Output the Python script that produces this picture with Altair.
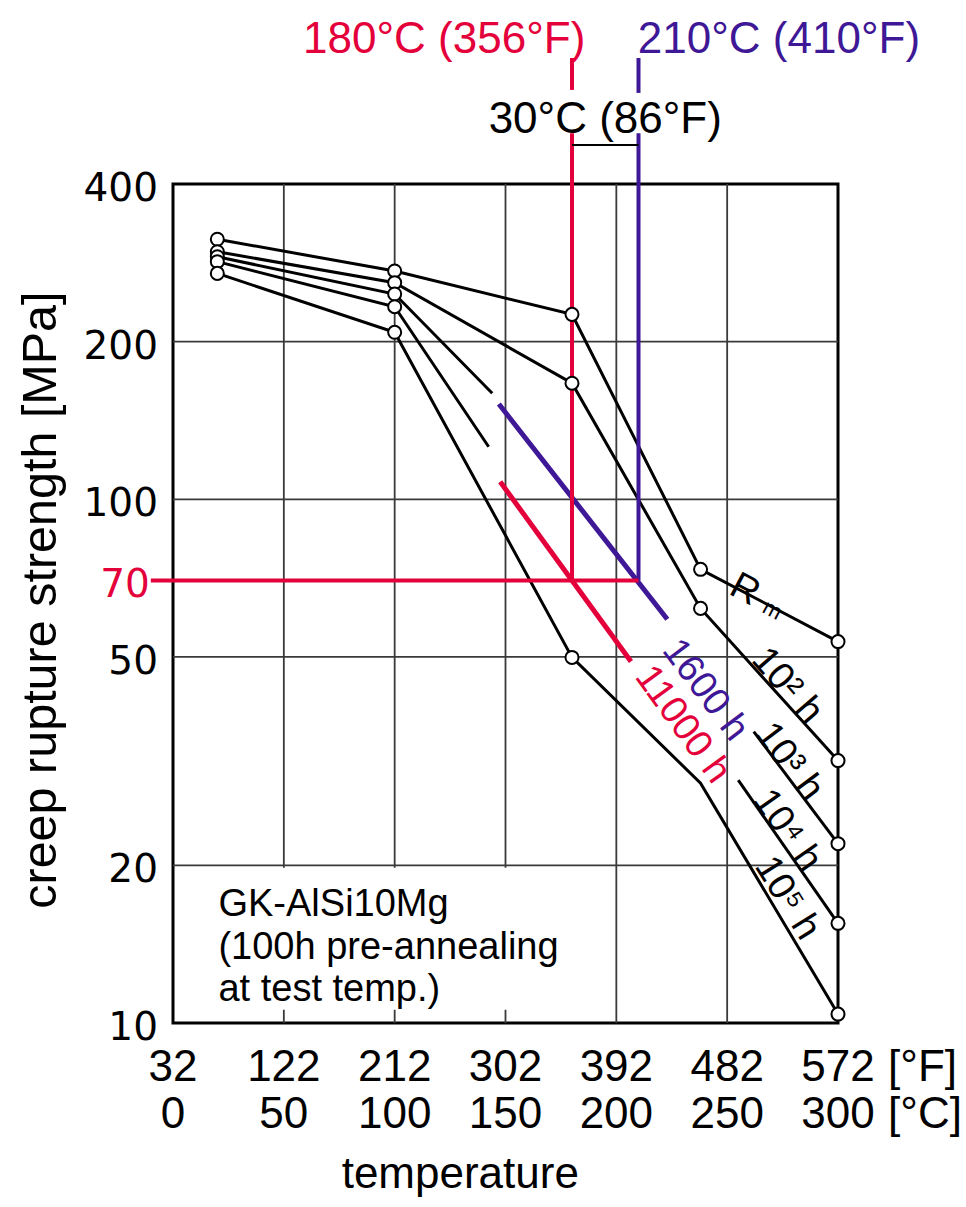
import altair as alt
import pandas as pd

# ---------------- data ----------------
# creep curves (temperature in degC, strength in MPa)
rm_t = [20, 100, 180, 238, 300]
rm_v = [313.7, 272.9, 225.5, 73.5, 53.5]
h2_t = [20, 100, 180, 238, 300]
h2_v = [297.0, 259.2, 166.6, 61.9, 31.7]
h3a_t = [20, 100, 144]
h3a_v = [290.5, 246.6, 159.4]
h3b_t = [262, 300]
h3b_v = [36.0, 22.0]
h4a_t = [20, 100, 142.4]
h4a_v = [284.3, 233.2, 126.0]
h4b_t = [255, 300]
h4b_v = [29.1, 15.5]
h5_t = [20, 100, 180, 238, 300]
h5_v = [270.0, 208.4, 49.9, 28.7, 10.4]

# measured points (circles)
pt_t = [20, 100, 180, 238, 300,
        20, 100, 180, 238, 300,
        20, 100, 300,
        20, 100, 300,
        20, 100, 180, 300]
pt_v = [313.7, 272.9, 225.5, 73.5, 53.5,
        297.0, 259.2, 166.6, 61.9, 31.7,
        290.5, 246.6, 22.0,
        284.3, 233.2, 15.5,
        270.0, 208.4, 49.9, 10.4]

# interpolated iso-time lines
iso1600_t = [147, 223]
iso1600_v = [152, 59]
iso11000_t = [147.6, 206.6]
iso11000_v = [108, 49]

# reference lines
temp_red = 180
temp_blue = 210
stress_ref = 70

# axes
c_ticks = [0, 50, 100, 150, 200, 250, 300]
f_ticks = ["32", "122", "212", "302", "392", "482", "572"]
mpa_ticks = [10, 20, 50, 100, 200, 400]
grid_c = [50, 100, 150, 200, 250]
grid_mpa = [20, 50, 100, 200]

RED = "#e4003a"
PURPLE = "#3e1896"
FONT = "Liberation Sans"
YFONT = "DejaVu Sans"

XSC = alt.Scale(domain=[0, 300], nice=False, zero=False)
YSC = alt.Scale(type="log", domain=[10, 400], nice=False)


def X(f):
    return alt.X(f, type="quantitative", scale=XSC, axis=None)


def Y(f):
    return alt.Y(f, type="quantitative", scale=YSC, axis=None)


def seg(name, ts, vs):
    return pd.DataFrame({"seg": name, "o": list(range(len(ts))), "t": ts, "v": vs})


curves = pd.concat([
    seg("Rm", rm_t, rm_v), seg("h2", h2_t, h2_v),
    seg("h3a", h3a_t, h3a_v), seg("h3b", h3b_t, h3b_v),
    seg("h4a", h4a_t, h4a_v), seg("h4b", h4b_t, h4b_v),
    seg("h5", h5_t, h5_v),
], ignore_index=True)
iso = pd.concat([
    seg("i1600", iso1600_t, iso1600_v).assign(col=PURPLE),
    seg("i11000", iso11000_t, iso11000_v).assign(col=RED),
], ignore_index=True)
pts = pd.DataFrame({"t": pt_t, "v": pt_v})

vlines = pd.DataFrame({
    "t": [temp_red, temp_red, temp_blue, temp_blue],
    "v": [696, 500, 696, 500],
    "v2": [605, stress_ref, 597, stress_ref],
    "col": [RED, RED, PURPLE, PURPLE],
})
hline = pd.DataFrame({"t": [-10], "t2": [temp_blue], "v": [stress_ref]})
bracket = pd.DataFrame({"t": [temp_red], "t2": [temp_blue], "v": [475]})

gv = pd.DataFrame({"t": grid_c, "v": [10] * len(grid_c), "v2": [400] * len(grid_c)})
gh = pd.DataFrame({"v": grid_mpa, "t": [0] * len(grid_mpa), "t2": [300] * len(grid_mpa)})

grid_v = alt.Chart(gv).mark_rule(color="#3a3a3a", strokeWidth=1.8).encode(
    x=X("t"), y=Y("v"), y2="v2")
grid_h = alt.Chart(gh).mark_rule(color="#3a3a3a", strokeWidth=1.8).encode(
    y=Y("v"), x=X("t"), x2="t2")

box = alt.Chart(pd.DataFrame({"t": [1.5], "t2": [188], "v": [10.6], "v2": [19.8]})).mark_rect(
    color="white").encode(x=X("t"), x2="t2", y=Y("v"), y2="v2")

lines = alt.Chart(curves).mark_line(color="black", strokeWidth=3).encode(
    x=X("t"), y=Y("v"), detail="seg:N", order="o:Q")
iso_lines = alt.Chart(iso).mark_line(strokeWidth=5).encode(
    x=X("t"), y=Y("v"), detail="seg:N", order="o:Q", color=alt.Color("col:N", scale=None))

vl = alt.Chart(vlines).mark_rule(strokeWidth=4).encode(
    x=X("t"), y=Y("v"), y2="v2", color=alt.Color("col:N", scale=None))
hl = alt.Chart(hline).mark_rule(strokeWidth=4, color=RED).encode(
    x=X("t"), x2="t2", y=Y("v"))
br = alt.Chart(bracket).mark_rule(strokeWidth=2, color="black").encode(
    x=X("t"), x2="t2", y=Y("v"))

circles = alt.Chart(pts).mark_point(shape="circle", filled=True, fill="white", stroke="black",
                                    strokeWidth=2, size=170, opacity=1).encode(x=X("t"), y=Y("v"))

# curve labels
lab = pd.DataFrame({
    "t": [277, 278, 277, 277, 240, 229.8],
    "v": [44.0, 31.5, 23.3, 17.3, 43.2, 37.1],
    "txt": ["10² h", "10³ h", "10⁴ h", "10⁵ h", "1600 h", "11000 h"],
    "ang": [49, 53, 55, 58, 53, 54],
    "col": ["black", "black", "black", "black", PURPLE, RED],
})
labels = alt.Chart(lab).mark_text(font=FONT, fontSize=38, align="center", baseline="middle").encode(
    x=X("t"), y=Y("v"), text="txt:N", angle=alt.Angle("ang:Q", scale=None),
    color=alt.Color("col:N", scale=None))

rm_lab = alt.Chart(pd.DataFrame({"t": [258], "v": [67.1], "txt": ["R"]})).mark_text(
    font=FONT, fontSize=38, angle=28, align="center", baseline="middle").encode(
    x=X("t"), y=Y("v"), text="txt:N")
rm_sub = alt.Chart(pd.DataFrame({"t": [270.4], "v": [61.5], "txt": ["m"]})).mark_text(
    font=FONT, fontSize=22, angle=28, align="center", baseline="middle").encode(
    x=X("t"), y=Y("v"), text="txt:N")

# top annotations
top_r = alt.Chart(pd.DataFrame({"t": [186], "v": [753], "txt": ["180°C (356°F)"]})).mark_text(
    font=FONT, fontSize=44, align="right", baseline="middle", color=RED).encode(
    x=X("t"), y=Y("v"), text="txt:N")
top_b = alt.Chart(pd.DataFrame({"t": [209.7], "v": [753], "txt": ["210°C (410°F)"]})).mark_text(
    font=FONT, fontSize=44, align="left", baseline="middle", color=PURPLE).encode(
    x=X("t"), y=Y("v"), text="txt:N")
diff_lab = alt.Chart(pd.DataFrame({"t": [195], "v": [530], "txt": ["30°C (86°F)"]})).mark_text(
    font=FONT, fontSize=44, align="center", baseline="middle", color="black").encode(
    x=X("t"), y=Y("v"), text="txt:N")

# text box
box_txt = pd.DataFrame({"t": [20.5, 20.5, 20.5], "v": [16.8, 13.9, 11.56],
                        "txt": ["GK-AlSi10Mg", "(100h pre-annealing", "at test temp.)"]})
box_text = alt.Chart(box_txt).mark_text(font=FONT, fontSize=38, align="left", baseline="middle").encode(
    x=X("t"), y=Y("v"), text="txt:N")

# y axis labels
ylab = alt.Chart(pd.DataFrame({"t": [0] * len(mpa_ticks), "v": mpa_ticks,
                               "txt": [str(m) for m in mpa_ticks]})).mark_text(
    font=YFONT, fontSize=39, align="right", baseline="middle", dx=-15, dy=5).encode(
    x=X("t"), y=Y("v"), text="txt:N")
ylab70 = alt.Chart(pd.DataFrame({"t": [-10], "v": [stress_ref], "txt": [str(stress_ref)]})).mark_text(
    font=YFONT, fontSize=39, align="right", baseline="middle", dx=-1, dy=5, color=RED).encode(
    x=X("t"), y=Y("v"), text="txt:N")
ytitle = alt.Chart(pd.DataFrame({"t": [-59.6], "v": [64.2], "txt": ["creep rupture strength [MPa]"]})).mark_text(
    font=FONT, fontSize=48.5, angle=270, align="center", baseline="middle").encode(
    x=X("t"), y=Y("v"), text="txt:N")

# x axis labels (two rows: degF and degC)
xt = pd.DataFrame({"t": c_ticks, "f": f_ticks, "c": [str(c) for c in c_ticks]})
xlab_f = alt.Chart(xt).mark_text(font=FONT, fontSize=44, align="center", baseline="middle", dy=45).encode(
    x=X("t"), y=alt.value(839), text="f:N")
xlab_c = alt.Chart(xt).mark_text(font=FONT, fontSize=44, align="center", baseline="middle", dy=92).encode(
    x=X("t"), y=alt.value(839), text="c:N")
unit_f = alt.Chart(pd.DataFrame({"t": [322.6], "txt": ["[°F]"]})).mark_text(
    font=FONT, fontSize=44, align="left", baseline="middle", dy=45).encode(
    x=X("t"), y=alt.value(839), text="txt:N")
unit_c = alt.Chart(pd.DataFrame({"t": [322.6], "txt": ["[°C]"]})).mark_text(
    font=FONT, fontSize=44, align="left", baseline="middle", dy=92).encode(
    x=X("t"), y=alt.value(839), text="txt:N")
xtitle = alt.Chart(pd.DataFrame({"t": [129.6], "txt": ["temperature"]})).mark_text(
    font=FONT, fontSize=44, align="center", baseline="middle", dy=152).encode(
    x=X("t"), y=alt.value(839), text="txt:N")

chart = alt.layer(
    grid_v, grid_h, box, lines, iso_lines, vl, hl, br, circles,
    labels, rm_lab, rm_sub, top_r, top_b, diff_lab, box_text,
    ylab, ylab70, ytitle, xlab_f, xlab_c, unit_f, unit_c, xtitle,
).properties(
    width=665, height=839,
    padding={"left": 173, "top": 184, "right": 128, "bottom": 184},
    autosize=alt.AutoSizeParams(type="none"),
    background="white",
).configure_view(stroke="black", strokeWidth=3)

chart.save("out.html", embed_options={"renderer": "svg", "actions": False})
